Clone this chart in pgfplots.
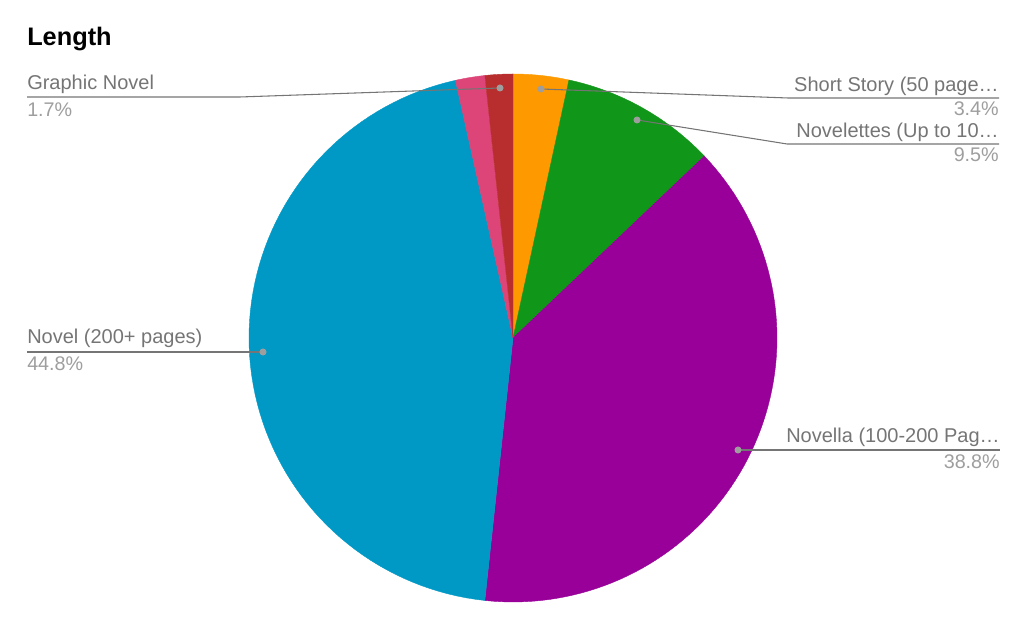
\documentclass[border=0pt]{standalone}
\usepackage{pgfplots}
\usepackage{pgfplotstable}
\pgfplotsset{compat=1.18}
\usepackage{fontspec}
\setmainfont{Liberation Sans}

\definecolor{cShort}{HTML}{FF9900}
\definecolor{cNovelette}{HTML}{109618}
\definecolor{cNovella}{HTML}{990099}
\definecolor{cNovel}{HTML}{0099C6}
\definecolor{cOther}{HTML}{DD4477}
\definecolor{cGraphic}{HTML}{B82E2E}
\definecolor{labelgray}{HTML}{757575}
\definecolor{pctgray}{HTML}{9E9E9E}

% share of each slice, clockwise from 12 o'clock
\pgfplotstableread{
pct  col
3.4  cShort
9.5  cNovelette
38.8 cNovella
44.8 cNovel
1.8  cOther
1.7  cGraphic
}\slices

\begin{document}
\begin{tikzpicture}
\begin{axis}[
  width=768pt, height=467.25pt,
  scale only axis,
  xmin=0, xmax=1024, ymin=0, ymax=623,
  hide axis, clip=false,
]
\path (axis cs:0,0) rectangle (axis cs:1024,623);

\pgfplotstablegetrowsof{\slices}
\pgfmathtruncatemacro{\nslices}{\pgfplotsretval-1}
\xdef\angstart{90}
\pgfplotsinvokeforeach{0,...,\nslices}{
  \pgfplotstablegetelem{#1}{pct}\of{\slices}
  \pgfmathsetmacro{\angend}{\angstart-3.6*\pgfplotsretval}
  \pgfplotstablegetelem{#1}{col}\of{\slices}
  \edef\slicecol{\pgfplotsretval}
  \edef\doslice{\noexpand\addplot[fill=\slicecol, draw=\slicecol, line width=0.3pt,
    domain=\angend:\angstart, samples=80, variable=\noexpand\t]
    ({513+264*cos(\noexpand\t)},{285+264*sin(\noexpand\t)}) -- (axis cs:513,285) -- cycle;}
  \doslice
  \xdef\angstart{\angend}
}

% leader lines
\pgfplotsset{leader/.style={labelgray, line width=0.8pt, mark=*, mark size=2.2pt,
  mark indices={1}, mark options={fill=pctgray, draw=pctgray}}}
\addplot[leader] coordinates {(500,535) (240,526) (27,526)};
\addplot[leader] coordinates {(541,534) (788,525) (999,525)};
\addplot[leader] coordinates {(637,503) (787,479) (999,479)};
\addplot[leader] coordinates {(738,173) (1000,173)};
\addplot[leader] coordinates {(263,271) (27,271)};

% labels
\tikzset{lab/.style={font=\fontsize{15pt}{18pt}\selectfont, text=labelgray, inner sep=0pt},
         pct/.style={font=\fontsize{14.8pt}{18pt}\selectfont, text=pctgray, inner sep=0pt}}
\node[anchor=base west, font=\fontsize{19pt}{22pt}\selectfont\bfseries, inner sep=0pt] at (axis cs:27,577) {Length};

\node[lab, anchor=base west] at (axis cs:27,533) {Graphic Novel};
\node[pct, anchor=base west] at (axis cs:27,506) {1.7\%};

\node[lab, anchor=base east] at (axis cs:999,531) {Short Story (50 page…};
\node[pct, anchor=base east] at (axis cs:999,507) {3.4\%};

\node[lab, anchor=base east] at (axis cs:999,485) {Novelettes (Up to 10…};
\node[pct, anchor=base east] at (axis cs:999,461) {9.5\%};

\node[lab, anchor=base east] at (axis cs:1000,180) {Novella (100-200 Pag…};
\node[pct, anchor=base east] at (axis cs:1000,154) {38.8\%};

\node[lab, anchor=base west] at (axis cs:27,279) {Novel (200+ pages)};
\node[pct, anchor=base west] at (axis cs:27,252) {44.8\%};
\end{axis}
\end{tikzpicture}
\end{document}
